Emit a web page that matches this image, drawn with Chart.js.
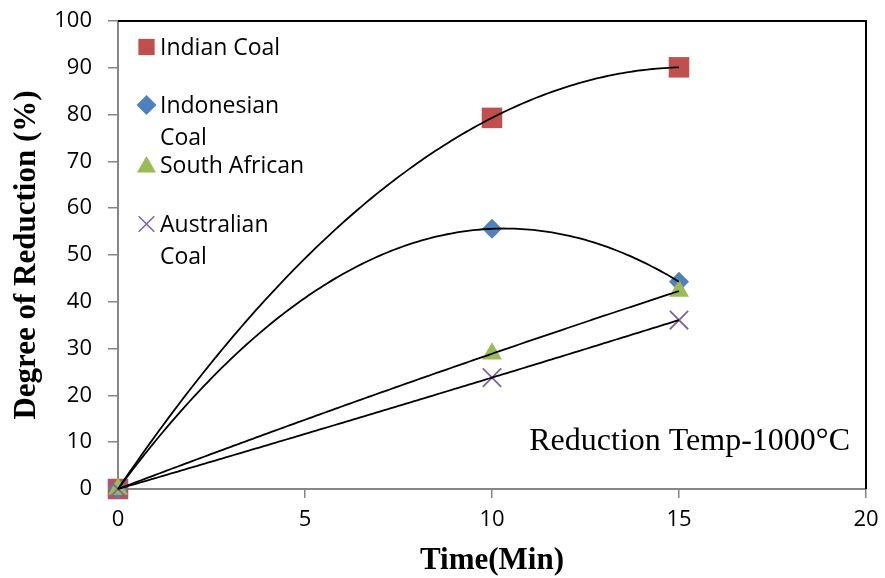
<!DOCTYPE html>
<html>
<head>
<meta charset="utf-8">
<script src="https://cdn.jsdelivr.net/npm/chart.js@4.4.1/dist/chart.umd.min.js"></script>
<style>
    html, body { margin: 0; padding: 0; background: #ffffff; }
    #wrap { width: 885px; height: 578px; }
</style>
</head>
<body>
<div id="wrap"><canvas id="reductionChart"></canvas></div>
<script>
const times = [0, 10, 15];
const indianCoal = [0, 79.3, 90.1];
const indonesianCoal = [0, 55.6, 44.3];
const southAfrican = [0, 28.9, 42.3];
const australianCoal = [0, 23.8, 36.1];

const seriesNames = ["Indian Coal", "Indonesian Coal", "South African", "Australian Coal"];
const legendLines = [["Indian Coal"], ["Indonesian", "Coal"], ["South African"], ["Australian", "Coal"]];
const xTickValues = [0, 5, 10, 15, 20];
const yTickValues = [0, 10, 20, 30, 40, 50, 60, 70, 80, 90, 100];
const annotationText = "Reduction Temp-1000\u00B0C";

const AXIS_GREY = "#868686";
const TICK_FONT = "'Open Sans', sans-serif";
const SERIF = "'Liberation Serif', 'Times New Roman', serif";

function toPoints(values) {
    return times.map((t, i) => ({ x: t, y: values[i] }));
}

// least squares quadratic, same as the spreadsheet's order 2 trendline
function fitQuadratic(points) {
    let s = [0, 0, 0, 0, 0], t = [0, 0, 0];
    points.forEach(p => {
        for (let k = 0; k < 5; k++) s[k] += Math.pow(p.x, k);
        for (let k = 0; k < 3; k++) t[k] += p.y * Math.pow(p.x, k);
    });
    const m = [[s[0], s[1], s[2], t[0]], [s[1], s[2], s[3], t[1]], [s[2], s[3], s[4], t[2]]];
    for (let i = 0; i < 3; i++) {
        for (let j = i + 1; j < 3; j++) {
            const f = m[j][i] / m[i][i];
            for (let k = i; k < 4; k++) m[j][k] -= f * m[i][k];
        }
    }
    const c = [0, 0, 0];
    for (let i = 2; i >= 0; i--) {
        let sum = m[i][3];
        for (let k = i + 1; k < 3; k++) sum -= m[i][k] * c[k];
        c[i] = sum / m[i][i];
    }
    return c;
}

const trendlinePlugin = {
    id: "trendlines",
    afterDatasetsDraw(chart) {
        const ctx = chart.ctx;
        const xs = chart.scales.x, ys = chart.scales.y;
        ctx.save();
        ctx.strokeStyle = "#000000";
        ctx.lineWidth = 1.8;
        chart.data.datasets.forEach(ds => {
            const c = fitQuadratic(ds.data);
            const xMin = Math.min(...ds.data.map(p => p.x));
            const xMax = Math.max(...ds.data.map(p => p.x));
            ctx.beginPath();
            for (let x = xMin; x <= xMax + 1e-9; x += 0.1) {
                const px = xs.getPixelForValue(x);
                const py = ys.getPixelForValue(c[0] + c[1] * x + c[2] * x * x);
                if (x === xMin) ctx.moveTo(px, py); else ctx.lineTo(px, py);
            }
            ctx.stroke();
        });
        ctx.restore();
    }
};

const framePlugin = {
    id: "frame",
    beforeDatasetsDraw(chart) {
        const { ctx, chartArea: a } = chart;
        ctx.save();
        ctx.strokeStyle = "#000000";
        ctx.lineWidth = 2;
        ctx.beginPath();
        ctx.moveTo(a.left, a.top);
        ctx.lineTo(a.right, a.top);
        ctx.lineTo(a.right, a.bottom);
        ctx.stroke();
        ctx.restore();
    }
};

const legendPlugin = {
    id: "insideLegend",
    afterDraw(chart) {
        const ctx = chart.ctx;
        const markerY = [47, 105, 165, 224];
        const sizes = [11.5, 10, 11, 11];
        ctx.save();
        ctx.font = "23px " + TICK_FONT;
        ctx.textAlign = "left";
        ctx.textBaseline = "alphabetic";
        chart.data.datasets.forEach((ds, i) => {
            const isCross = ds.pointStyle === "crossRot";
            ctx.fillStyle = ds.backgroundColor;
            ctx.strokeStyle = ds.borderColor;
            ctx.lineWidth = isCross ? 1.6 : 0;
            Chart.helpers.drawPoint(ctx, {
                pointStyle: ds.pointStyle,
                radius: sizes[i],
                rotation: 0,
                borderWidth: isCross ? 1.6 : 0
            }, 146.5, markerY[i] + (ds.pointStyle === "triangle" ? 2 : 0));
            ctx.fillStyle = "#000000";
            legendLines[i].forEach((line, k) => {
                ctx.fillText(line, 160, markerY[i] + 8 + k * 32);
            });
        });
        ctx.restore();
    }
};

const annotationPlugin = {
    id: "tempNote",
    afterDraw(chart) {
        const ctx = chart.ctx;
        ctx.save();
        ctx.font = "32px " + SERIF;
        ctx.fillStyle = "#000000";
        ctx.textAlign = "right";
        ctx.textBaseline = "alphabetic";
        ctx.fillText(annotationText, 850, 450);
        ctx.restore();
    }
};

function renderChart() {
    new Chart(document.getElementById("reductionChart"), {
        type: "scatter",
        data: {
            datasets: [
                {
                    label: seriesNames[0],
                    data: toPoints(indianCoal),
                    order: 3,
                    clip: false,
                    pointStyle: "rect",
                    pointRadius: 14.5,
                    backgroundColor: "#C0504D",
                    borderColor: "#C0504D",
                    borderWidth: 0
                },
                {
                    label: seriesNames[1],
                    data: toPoints(indonesianCoal),
                    order: 2,
                    clip: false,
                    pointStyle: "rectRot",
                    pointRadius: 10,
                    backgroundColor: "#4F81BD",
                    borderColor: "#4F81BD",
                    borderWidth: 0
                },
                {
                    label: seriesNames[2],
                    data: toPoints(southAfrican),
                    order: 1,
                    clip: false,
                    pointStyle: "triangle",
                    pointRadius: 11.5,
                    backgroundColor: "#9BBB59",
                    borderColor: "#9BBB59",
                    borderWidth: 0
                },
                {
                    label: seriesNames[3],
                    data: toPoints(australianCoal),
                    order: 0,
                    clip: false,
                    pointStyle: "crossRot",
                    pointRadius: 13,
                    backgroundColor: "#8064A2",
                    borderColor: "#8064A2",
                    borderWidth: 1.8
                }
            ]
        },
        options: {
            responsive: true,
            maintainAspectRatio: false,
            animation: false,
            layout: { padding: { top: 21, right: 19, left: 0, bottom: 0 } },
            plugins: {
                legend: { display: false },
                tooltip: { enabled: false }
            },
            scales: {
                x: {
                    type: "linear",
                    min: 0,
                    max: 20,
                    afterBuildTicks: axis => { axis.ticks = xTickValues.map(v => ({ value: v })); },
                    afterFit: axis => {
                        axis.height = 89;
                        axis.paddingLeft = 0;
                        axis.paddingRight = 0;
                    },
                    grid: {
                        display: true,
                        drawOnChartArea: false,
                        drawTicks: true,
                        tickLength: 9,
                        color: AXIS_GREY,
                        lineWidth: 1.5
                    },
                    border: { color: AXIS_GREY, width: 2 },
                    ticks: {
                        color: "#000000",
                        padding: 9,
                        font: { family: TICK_FONT, size: 22 }
                    },
                    title: {
                        display: true,
                        text: "Time(Min)",
                        color: "#000000",
                        padding: { top: 0, bottom: 0 },
                        font: { family: SERIF, size: 31, weight: "bold", lineHeight: 1.1 }
                    }
                },
                y: {
                    min: 0,
                    max: 100,
                    afterBuildTicks: axis => { axis.ticks = yTickValues.map(v => ({ value: v })); },
                    afterFit: axis => {
                        axis.width = 118;
                        axis.paddingTop = 0;
                        axis.paddingBottom = 0;
                    },
                    grid: {
                        display: true,
                        drawOnChartArea: false,
                        drawTicks: true,
                        tickLength: 10,
                        color: AXIS_GREY,
                        lineWidth: 1.5
                    },
                    border: { color: AXIS_GREY, width: 2 },
                    ticks: {
                        color: "#000000",
                        padding: 16,
                        font: { family: TICK_FONT, size: 22 }
                    },
                    title: {
                        display: true,
                        text: "Degree of Reduction (%)",
                        color: "#000000",
                        padding: { top: 8, bottom: 0 },
                        font: { family: SERIF, size: 31, weight: "bold" }
                    }
                }
            }
        },
        plugins: [framePlugin, trendlinePlugin, legendPlugin, annotationPlugin]
    });
}

renderChart();
</script>
</body>
</html>
